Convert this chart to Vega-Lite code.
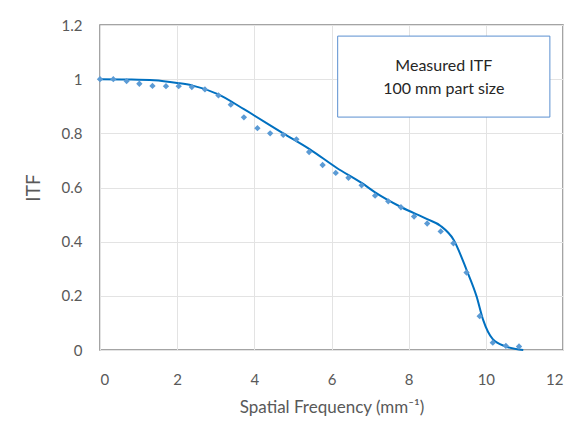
{
  "$schema": "https://vega.github.io/schema/vega-lite/v6.json",
  "width": 463,
  "height": 325,
  "autosize": "none",
  "padding": {"left": 100, "top": 25, "right": 19, "bottom": 82},
  "background": "white",
  "config": {
    "view": {"stroke": "#868686", "strokeWidth": 1.5},
    "axis": {
      "labelFont": "Lato", "titleFont": "Lato",
      "labelColor": "#595959", "titleColor": "#595959",
      "labelFontSize": 15, "titleFontSize": 19, "titleFontWeight": "normal",
      "domain": false, "ticks": false,
      "gridColor": "#e3e3e3", "gridWidth": 1
    }
  },
  "datasets": {
    "pts": [
      {"f": 0.0, "itf": 1.0}, {"f": 0.345, "itf": 1.0}, {"f": 0.69, "itf": 0.993},
      {"f": 1.02, "itf": 0.983}, {"f": 1.36, "itf": 0.975}, {"f": 1.71, "itf": 0.974},
      {"f": 2.04, "itf": 0.974}, {"f": 2.38, "itf": 0.971}, {"f": 2.72, "itf": 0.962},
      {"f": 3.07, "itf": 0.94}, {"f": 3.39, "itf": 0.906}, {"f": 3.73, "itf": 0.859},
      {"f": 4.08, "itf": 0.819}, {"f": 4.41, "itf": 0.8}, {"f": 4.75, "itf": 0.794},
      {"f": 5.09, "itf": 0.778}, {"f": 5.42, "itf": 0.731}, {"f": 5.77, "itf": 0.683},
      {"f": 6.11, "itf": 0.654}, {"f": 6.44, "itf": 0.636}, {"f": 6.78, "itf": 0.608},
      {"f": 7.13, "itf": 0.57}, {"f": 7.47, "itf": 0.549}, {"f": 7.8, "itf": 0.527},
      {"f": 8.14, "itf": 0.493}, {"f": 8.48, "itf": 0.467}, {"f": 8.83, "itf": 0.438},
      {"f": 9.16, "itf": 0.394}, {"f": 9.5, "itf": 0.286}, {"f": 9.84, "itf": 0.125},
      {"f": 10.18, "itf": 0.027}, {"f": 10.52, "itf": 0.015}, {"f": 10.86, "itf": 0.013}
    ],
    "fit": [
      {"f": 0.0, "itf": 1.0}, {"f": 0.7, "itf": 0.999}, {"f": 1.4, "itf": 0.996},
      {"f": 2.0, "itf": 0.986}, {"f": 2.38, "itf": 0.977}, {"f": 3.07, "itf": 0.944},
      {"f": 3.73, "itf": 0.889}, {"f": 4.75, "itf": 0.8}, {"f": 5.44, "itf": 0.741},
      {"f": 6.13, "itf": 0.673}, {"f": 6.78, "itf": 0.617}, {"f": 7.13, "itf": 0.582},
      {"f": 7.8, "itf": 0.528}, {"f": 8.48, "itf": 0.483}, {"f": 8.83, "itf": 0.458},
      {"f": 9.16, "itf": 0.408}, {"f": 9.5, "itf": 0.296}, {"f": 9.76, "itf": 0.198},
      {"f": 9.93, "itf": 0.111}, {"f": 10.18, "itf": 0.04}, {"f": 10.52, "itf": 0.013},
      {"f": 10.97, "itf": 0.0}
    ],
    "box": [{"x1": 6.16, "x2": 11.66, "y1": 0.86, "y2": 1.159}],
    "label": [
      {"x": 8.91, "y": 1.049, "t": "Measured ITF"},
      {"x": 8.91, "y": 0.963, "t": "100 mm part size"}
    ]
  },
  "layer": [
    {
      "data": {"name": "fit"},
      "mark": {"type": "line", "interpolate": "monotone", "color": "#0070c0", "strokeWidth": 2},
      "encoding": {
        "x": {"field": "f", "type": "quantitative",
              "scale": {"domain": [0, 12]},
              "axis": {"values": [0, 2, 4, 6, 8, 10, 12], "title": "Spatial Frequency (mm⁻¹)", "titleFontSize": 17, "labelPadding": 22, "titlePadding": 12}},
        "y": {"field": "itf", "type": "quantitative",
              "scale": {"domain": [0, 1.2]},
              "axis": {"values": [0, 0.2, 0.4, 0.6, 0.8, 1, 1.2], "format": "~g", "title": "ITF", "labelPadding": 18, "titlePadding": 18}}
      }
    },
    {
      "data": {"name": "pts"},
      "mark": {"type": "point", "shape": "diamond", "filled": true, "color": "#5b9bd5", "size": 40, "opacity": 1},
      "encoding": {
        "x": {"field": "f", "type": "quantitative"},
        "y": {"field": "itf", "type": "quantitative"}
      }
    },
    {
      "data": {"name": "box"},
      "mark": {"type": "rect", "fill": "white", "stroke": "#5b8fd0", "strokeWidth": 1},
      "encoding": {
        "x": {"field": "x1", "type": "quantitative"},
        "x2": {"field": "x2"},
        "y": {"field": "y1", "type": "quantitative"},
        "y2": {"field": "y2"}
      }
    },
    {
      "data": {"name": "label"},
      "mark": {"type": "text", "font": "Lato", "fontSize": 16, "color": "#262626", "align": "center", "baseline": "middle"},
      "encoding": {
        "x": {"field": "x", "type": "quantitative"},
        "y": {"field": "y", "type": "quantitative"},
        "text": {"field": "t"}
      }
    }
  ]
}
